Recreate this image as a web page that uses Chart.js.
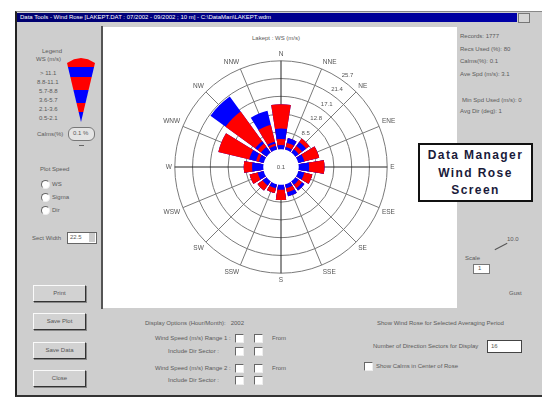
<!DOCTYPE html>
<html>
<head>
<meta charset="utf-8">
<script src="https://cdn.jsdelivr.net/npm/chart.js@4.4.1/dist/chart.umd.min.js"></script>
<style>
body { margin:0; width:542px; height:397px; background:#fff; position:relative; overflow:hidden; font-family:"Liberation Sans", Arial, sans-serif; }
.a { position:absolute; }
.t { position:absolute; font-size:6px; color:#5a5a5a; white-space:nowrap; line-height:7px; }
.btn { position:absolute; left:33px; width:51px; height:15px; background:#d2d2d2; border:1px solid; border-color:#fafafa #333 #333 #fafafa; box-shadow:1px 1px 0 #888; font-size:6px; color:#555; text-align:center; line-height:15px; }
.chk { position:absolute; width:7px; height:7px; background:#fff; border:1px solid; border-color:#666 #eee #eee #666; }
#funnel { left:67px; top:58px; width:28px; height:64px;
  clip-path: polygon(0 8%, 25% 2%, 50% 0, 75% 2%, 100% 8%, 50% 100%);
  background: linear-gradient(#ff0000 0 14%, #0000ff 14% 30%, #ff0000 30% 50%, #0000ff 50% 70%, #ff0000 70% 84%, #0000ff 84% 100%); }
#tag { left:418px; top:143px; width:111px; height:53px; background:#fff; border:2px solid #111; text-align:center;
  font-weight:bold; font-size:12px; letter-spacing:1.4px; color:#1a1a3a; line-height:17.5px; padding-top:2px; }
</style>
</head>
<body>

<!-- ================= WINDOW ================= -->
<div class="a" style="left:15px;top:11px;width:527px;height:383px;background:#cecece;border-left:2px solid #222;border-top:1px solid #888;border-bottom:2px solid #333;"></div>
<div class="a" style="left:17px;top:13px;width:500px;height:9px;background:linear-gradient(to right,#00006e,#0000a8);"></div>
<div class="t" style="left:20px;top:14px;color:#fff;">Data Tools - Wind Rose [LAKEPT.DAT : 07/2002 - 09/2002 ; 10 m] - C:\DataMan\LAKEPT.wdm</div>
<div class="a" style="left:518px;top:13px;width:10px;height:8px;background:#d6d6d6;border:1px solid #777;"></div>

<!-- chart panel -->
<div class="a" style="left:101px;top:26px;width:2px;height:283px;background:#555;"></div>
<div class="a" style="left:103px;top:27px;width:354px;height:281px;background:#fff;"></div>
<div class="t" style="left:252px;top:35px;">Lakept : WS (m/s)</div>

<!-- ================= LEFT PANEL ================= -->
<div class="t" style="left:42px;top:48px;">Legend</div>
<div class="t" style="left:36px;top:56px;">WS (m/s)</div>
<div class="t" style="left:40px;top:70px;">&gt; 11.1</div>
<div class="t" style="left:37px;top:79px;">8.8-11.1</div>
<div class="t" style="left:39px;top:88px;">5.7-8.8</div>
<div class="t" style="left:39px;top:97px;">3.6-5.7</div>
<div class="t" style="left:39px;top:106px;">2.1-3.6</div>
<div class="t" style="left:39px;top:115px;">0.5-2.1</div>
<div id="funnel" class="a"></div>
<div class="t" style="left:37px;top:131px;">Calms(%)</div>
<div class="a" style="left:68px;top:127px;width:25px;height:12px;border:1px solid #777;border-radius:6px;background:#e4e4e4;"></div>
<div class="t" style="left:73px;top:130px;">0.1 %</div>
<div class="a" style="left:79px;top:145px;width:5px;height:1px;background:#666;"></div>

<div class="t" style="left:40px;top:166px;">Plot Speed</div>
<div class="chk" style="left:41px;top:180px;border-radius:5px;"></div><div class="t" style="left:52px;top:181px;">WS</div>
<div class="chk" style="left:41px;top:193px;border-radius:5px;"></div><div class="t" style="left:52px;top:194px;">Sigma</div>
<div class="chk" style="left:41px;top:206px;border-radius:5px;"></div><div class="t" style="left:52px;top:207px;">Dir</div>

<div class="t" style="left:32px;top:235px;">Sect Width</div>
<div class="a" style="left:67px;top:232px;width:28px;height:10px;background:#fff;border:1px solid #666;"></div>
<div class="t" style="left:70px;top:234px;">22.5</div>
<div class="a" style="left:89px;top:233px;width:6px;height:9px;background:#ccc;"></div>

<div class="btn" style="top:285px;">Print</div>
<div class="btn" style="top:313px;">Save Plot</div>
<div class="btn" style="top:342px;">Save Data</div>
<div class="btn" style="top:370px;">Close</div>

<!-- ================= RIGHT PANEL ================= -->
<div class="t" style="left:460px;top:33px;">Records: 1777</div>
<div class="t" style="left:460px;top:46px;">Recs Used (%): 80</div>
<div class="t" style="left:460px;top:58px;">Calms(%): 0.1</div>
<div class="t" style="left:460px;top:71px;">Ave Spd (m/s): 3.1</div>
<div class="t" style="left:462px;top:97px;">Min Spd Used (m/s): 0</div>
<div class="t" style="left:460px;top:108px;">Avg Dir (deg): 1</div>

<div id="tag" class="a">Data Manager<br>Wind Rose<br>Screen</div>

<div class="t" style="left:507px;top:236px;">10.0</div>
<div class="a" style="left:494px;top:246px;width:14px;height:1px;background:#555;transform:rotate(-28deg);"></div>
<div class="t" style="left:465px;top:255px;">Scale</div>
<div class="a" style="left:473px;top:264px;width:15px;height:8px;background:#fff;border:1px solid #777;"></div>
<div class="t" style="left:478px;top:265px;">1</div>
<div class="t" style="left:509px;top:290px;">Gust</div>

<!-- ================= BOTTOM ================= -->
<div class="t" style="left:145px;top:320px;">Display Options (Hour/Month):&nbsp;&nbsp; 2002</div>
<div class="t" style="left:155px;top:335px;">Wind Speed (m/s) Range 1 :</div>
<div class="t" style="left:168px;top:348px;">Include Dir Sector :</div>
<div class="t" style="left:155px;top:365px;">Wind Speed (m/s) Range 2 :</div>
<div class="t" style="left:168px;top:377px;">Include Dir Sector :</div>
<div class="chk" style="left:235px;top:334px;"></div><div class="chk" style="left:254px;top:334px;"></div><div class="t" style="left:272px;top:335px;">From</div>
<div class="chk" style="left:235px;top:347px;"></div><div class="chk" style="left:254px;top:347px;"></div>
<div class="chk" style="left:235px;top:364px;"></div><div class="chk" style="left:254px;top:364px;"></div><div class="t" style="left:272px;top:365px;">From</div>
<div class="chk" style="left:235px;top:376px;"></div><div class="chk" style="left:254px;top:376px;"></div>

<div class="t" style="left:377px;top:320px;">Show Wind Rose for Selected Averaging Period</div>
<div class="t" style="left:373px;top:343px;">Number of Direction Sectors for Display</div>
<div class="a" style="left:487px;top:340px;width:33px;height:11px;background:#fff;border:1px solid #444;"></div>
<div class="t" style="left:491px;top:343px;">16</div>
<div class="chk" style="left:364px;top:362px;"></div>
<div class="t" style="left:376px;top:363px;">Show Calms in Center of Rose</div>

<!-- ================= CHART ================= -->
<div class="a" style="left:159px;top:50px;width:241px;height:235px;">
<canvas id="roseChart" width="241" height="235"></canvas>
</div>

<script>
// ================= DATA =================
let directions = ["N","NNE","NE","ENE","E","ESE","SE","SSE","S","SSW","SW","WSW","W","WNW","NW","NNW"];

// frequency (%) per speed class, inner to outer
let bin1 = [1.0, 0.7, 1.0, 1.5, 2.5, 1.5, 1.0, 1.0, 1.2, 1.0, 1.2, 1.5, 2.7, 1.2, 1.7, 1.0];
let bin2 = [1.5, 1.0, 1.0, 3.7, 3.7, 2.0, 1.0, 1.0, 2.5, 1.2, 1.5, 2.0, 2.0, 0.7, 1.0, 0.5];
let bin3 = [2.5, 1.2, 1.2, 0, 0, 0, 0.7, 1.0, 0, 0, 0, 0, 0, 1.7, 0.7, 0.5];
let bin4 = [5.9, 0, 1.0, 0, 0, 0, 0, 0, 0, 0, 0, 0, 0, 7.7, 8.9, 4.2];
let bin5 = [0, 0, 0, 0, 0, 0, 0, 0, 0, 0, 0, 0, 0, 0, 4.5, 3.5];

let binColors = ["#0000ff","#ff0000","#0000ff","#ff0000","#0000ff"];

let calm = 4.3;
let calmLabel = "0.1";

let ringValues = [4.3, 8.5, 12.8, 17.1, 21.4, 25.7];
let ringLabels = ["4.3", "8.5", "12.8", "17.1", "21.4", "25.7"];

// ================= BUILD DATASETS =================
// 32 slots: gap, N, gap, NNE, ... so every wedge sits centred on its bearing
let slotLabels = [];
for(let i = 0; i < 32; i++){
    slotLabels.push(i % 2 ? directions[(i - 1) / 2] : "");
}

function toSlots(values){
    let out = [];
    for(let i = 0; i < 32; i++){
        out.push(i % 2 ? values[(i - 1) / 2] : 0);
    }
    return out;
}

let bins = [bin1, bin2, bin3, bin4, bin5];
let running = directions.map(() => calm);
let datasets = [];

// calm hole: one full circle drawn on top
datasets.push({
    data: [calm],
    backgroundColor: "#ffffff",
    borderWidth: 0
});

bins.forEach((bin, k) => {
    running = running.map((v, d) => v + bin[d]);
    datasets.push({
        data: toSlots(running),
        backgroundColor: binColors[k],
        borderWidth: 0,
        angle: c => c.dataIndex === 0 ? 2.25 : (c.dataIndex % 2 ? 18 : 4.5)
    });
});

// ================= RING LABELS =================
let ringLabelPlugin = {
    id: "ringLabels",
    afterDatasetsDraw(chart){
        let r = chart.scales.r;
        let ctx = chart.ctx;
        let a = 36 * Math.PI / 180;
        ctx.save();
        ctx.font = "6px 'Liberation Sans'";
        ctx.fillStyle = "#555";
        ctx.textAlign = "center";
        ctx.textBaseline = "middle";
        ringValues.forEach((v, i) => {
            if(i === 0) return;
            let d = r.getDistanceFromCenterForValue(v) + 7;
            ctx.fillText(ringLabels[i], r.xCenter + d * Math.sin(a), r.yCenter - d * Math.cos(a));
        });
        ctx.fillText(calmLabel, r.xCenter, r.yCenter);
        ctx.restore();
    }
};

// ================= CHART =================
new Chart(document.getElementById("roseChart"), {
    type: "polarArea",
    data: {
        labels: slotLabels,
        datasets: datasets
    },
    options: {
        responsive: false,
        animation: false,
        layout: { padding: 0 },
        plugins: {
            legend: { display: false },
            tooltip: { enabled: false }
        },
        scales: {
            r: {
                min: 0,
                max: 25.7,
                startAngle: -11.25,
                afterBuildTicks: s => { s.ticks = ringValues.map(v => ({ value: v })); },
                ticks: { display: false },
                grid: { color: "#7a7a7a", lineWidth: 1 },
                angleLines: {
                    display: true,
                    color: c => {
                        if(c.index % 2 === 0) return "rgba(0,0,0,0)";
                        return ((c.index - 1) / 2) % 4 === 0 ? "#222" : "#7a7a7a";
                    },
                    lineWidth: c => c.index % 2 ? 1 : 0
                },
                pointLabels: {
                    display: true,
                    padding: 3,
                    color: "#555",
                    font: { size: 6.5, family: "Liberation Sans" }
                }
            }
        }
    },
    plugins: [ringLabelPlugin]
});
</script>
</body>
</html>
